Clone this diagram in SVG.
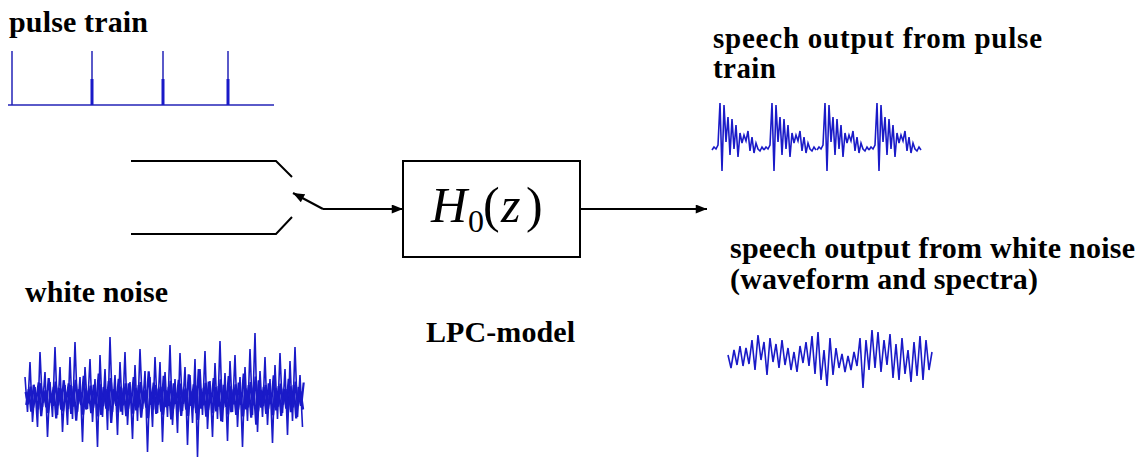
<svg xmlns="http://www.w3.org/2000/svg" width="1147" height="473" viewBox="0 0 1147 473">
<style>
.lbl{font-family:"Liberation Serif","Times New Roman",serif;font-weight:bold;fill:#000}
.wave{fill:none;stroke:#1a1ac8;stroke-width:1.6;stroke-linejoin:miter}
.wire{fill:none;stroke:#000;stroke-width:2}
</style>
<defs>
<marker id="arr" viewBox="0 0 10 8" refX="10" refY="4" markerWidth="12" markerHeight="9" markerUnits="userSpaceOnUse" orient="auto">
<path d="M0 0 L10 4 L0 8 z" fill="#000"/>
</marker>
<polyline id="period" points="0,3 2,0 4,2 6,-2 8,-44 10,24 12,-42 14,-5 16,-30 18,8 20,-28 22,2 24,-22 26,10 28,-14 30,-4 32,-12 34,-6 36,-16 38,4 40,-10 42,6 44,-4 46,2 48,4 50,0 52,3"/>
<polyline id="noise" vector-effect="non-scaling-stroke" points="0,-20 1,15 2,-35 3,25 4,-10 5,30 6,-45 7,10 8,-25 9,40 10,-15 11,20 12,-50 13,18 14,-30 15,35 16,-12 17,28 18,-40 19,22 20,-55 21,15 22,-20 23,45 24,-30 25,12 26,-38 27,25 28,-18 29,50 30,-42 31,20 32,-28 33,33 34,-60 35,15 36,-22 37,38 38,-35 39,18 40,-45 41,28 42,-15 43,42 44,-32 45,24 46,-48 47,12 48,-26 49,55 50,-20 51,30 52,-40 53,16 54,-35 55,45 56,-25 57,20 58,-52 59,28 60,-18 61,36 62,-44 63,14 64,-30 65,48 66,-22 67,26 68,-38 69,60 70,-28 71,18 72,-46 73,32 74,-16 75,40 76,-34 77,22 78,-56 79,25 80,-24 81,44 82,-36 83,15 84,-42 85,30 86,-20 87,50 88,-30 89,24 90,-48 91,18 92,-64 93,35 94,-26 95,20 96,-40 97,28 98,-18 99,46 100,-32 101,22 102,-44 103,16 104,-28 105,38 106,-36 107,24 108,-50 109,20 110,-22 111,30"/>
</defs>
<rect width="1147" height="473" fill="#fff"/>

<g id="pulse-train">
<text class="lbl" x="9" y="32" font-size="30" textLength="139" lengthAdjust="spacing">pulse train</text>
<path d="M8 105 H274 M12 105 V51 M92 105 V51 M163 105 V51 M228 105 V51" stroke="#2424b8" stroke-width="1.5" fill="none"/>
<path d="M92 105 V79 M163 105 V79 M228 105 V79" stroke="#1a1ac8" stroke-width="3" fill="none"/>
</g>

<g id="white-noise">
<text class="lbl" x="25" y="302" font-size="30" textLength="143" lengthAdjust="spacing">white noise</text>
<use href="#noise" class="wave" transform="translate(25,397) scale(2.5,1)"/>
<use href="#noise" class="wave" style="stroke-width:2.2" transform="translate(26.2,396) scale(2.5,-0.45)"/>
<use href="#noise" class="wave" style="stroke-width:2.2" transform="translate(25.6,399) scale(2.5,0.35)"/>
</g>

<g id="switch">
<path class="wire" d="M131 161 H276 L292 177"/>
<path class="wire" d="M131 234 H276 L292 217"/>
</g>

<g id="lpc-filter">
<rect x="403" y="161" width="177" height="96" fill="#fff" stroke="#000" stroke-width="2"/>
<text font-family="'Liberation Serif','Times New Roman',serif" font-size="50" fill="#000"><tspan x="431" y="222" font-style="italic">H</tspan><tspan x="468" y="232" font-size="32">0</tspan><tspan x="483" y="222">(</tspan><tspan x="501" y="222" font-style="italic">z</tspan><tspan x="526" y="222">)</tspan></text>
<text class="lbl" x="426" y="342" font-size="30" textLength="149" lengthAdjust="spacing">LPC-model</text>
</g>

<g id="speech-pulse">
<text class="lbl" font-size="29"><tspan x="713" y="48" textLength="329" lengthAdjust="spacing">speech output from pulse</tspan><tspan x="713" y="78" textLength="63" lengthAdjust="spacing">train</tspan></text>
<g transform="translate(712,147)">
<use href="#period" class="wave"/>
<use href="#period" class="wave" x="52"/>
<use href="#period" class="wave" x="105"/>
<use href="#period" class="wave" x="157"/>
</g>
</g>

<g id="speech-noise">
<text class="lbl" font-size="30"><tspan x="730" y="258" textLength="405" lengthAdjust="spacing">speech output from white noise</tspan><tspan x="730" y="289" textLength="308" lengthAdjust="spacing">(waveform and spectra)</tspan></text>
<polyline class="wave" transform="translate(728,360)" points="0,-5 3,8 6,-10 9,5 12,-14 15,6 18,-12 21,4 24,-20 27,10 30,-25 33,0 36,-18 39,15 42,-22 45,2 48,-16 51,8 54,-20 57,5 60,-12 63,10 66,-8 69,12 72,-14 75,3 78,-18 81,6 84,-24 87,14 90,-28 93,20 96,-10 99,26 102,-22 105,15 108,-12 111,8 114,-6 117,12 120,-4 123,10 126,-8 129,6 132,-22 135,28 138,-20 141,10 144,-30 147,8 150,-28 153,12 156,-20 159,5 162,-26 165,18 168,-16 171,20 174,-22 177,14 180,-10 183,22 186,-18 189,16 192,-24 195,20 198,-20 201,10 204,-8"/>
</g>

<g id="connectors">
<path class="wire" d="M323 209 L293 193" marker-end="url(#arr)"/>
<path class="wire" d="M323 209 H403" marker-end="url(#arr)"/>
<path class="wire" d="M580 209 H707" marker-end="url(#arr)"/>
</g>
</svg>
